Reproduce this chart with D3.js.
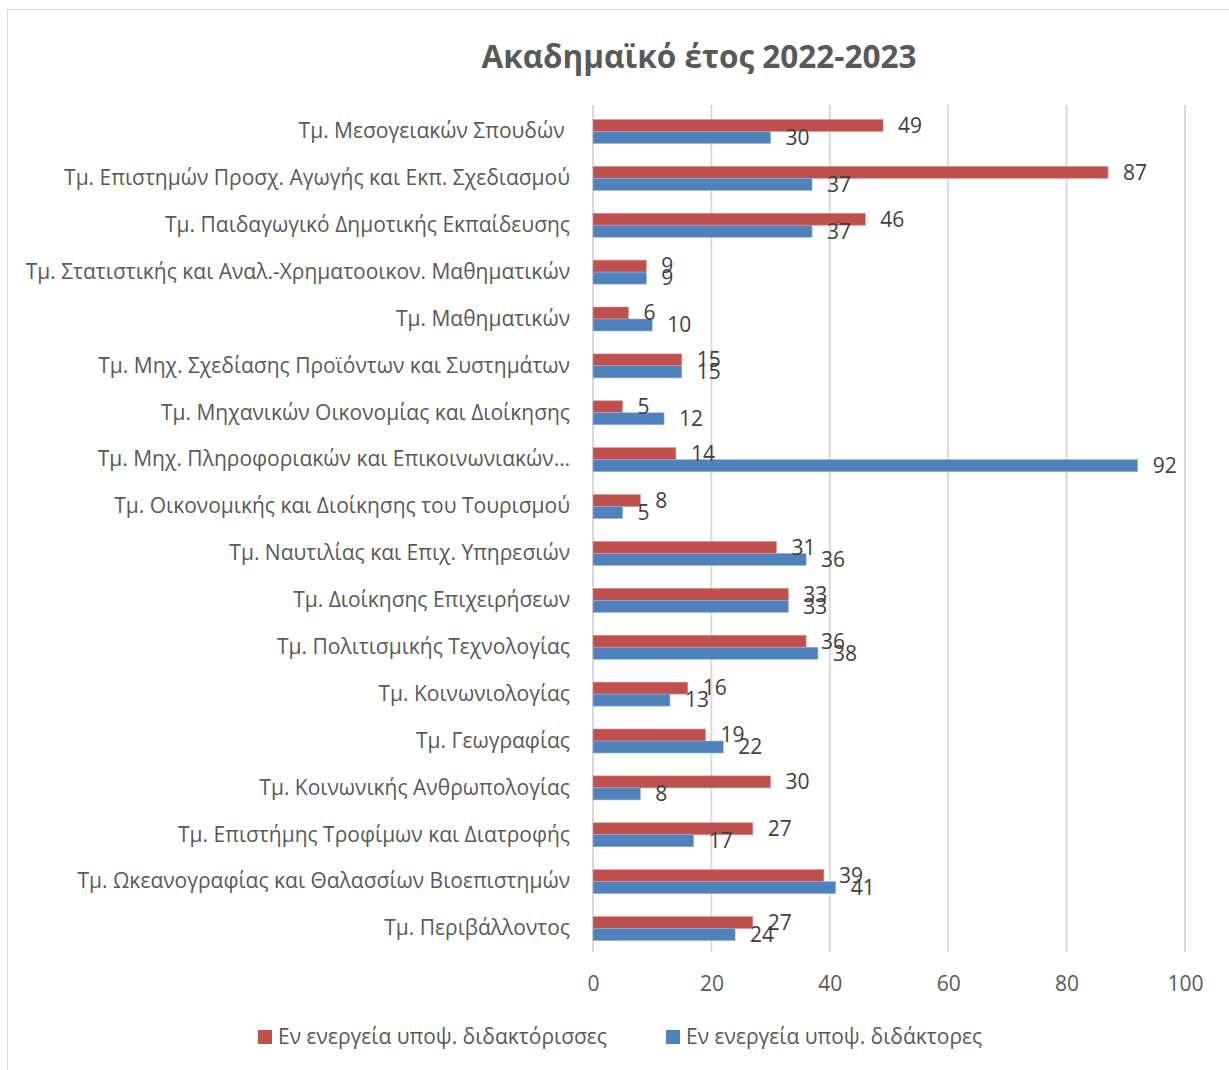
<!DOCTYPE html>
<html>
<head>
<meta charset="utf-8">
<script src="https://cdn.jsdelivr.net/npm/d3@7"></script>
<style>
  html, body { margin: 0; padding: 0; background: #fff; overflow: hidden; }
  svg { display: block; font-family: "Open Sans", "Noto Sans", sans-serif; }
</style>
</head>
<body>
<svg id="drawing_region"></svg>
<script>
var width = 1229;
var height = 1070;
var margin = {top:108, right:44, bottom:118, left:593};

// departments, top to bottom
const categories = [
  "Τμ. Μεσογειακών Σπουδών ",
  "Τμ. Επιστημών Προσχ. Αγωγής και Εκπ. Σχεδιασμού",
  "Τμ. Παιδαγωγικό Δημοτικής Εκπαίδευσης",
  "Τμ. Στατιστικής και Αναλ.-Χρηματοοικον. Μαθηματικών",
  "Τμ. Μαθηματικών",
  "Τμ. Μηχ. Σχεδίασης Προϊόντων και Συστημάτων",
  "Τμ. Μηχανικών Οικονομίας και Διοίκησης",
  "Τμ. Μηχ. Πληροφοριακών και Επικοινωνιακών…",
  "Τμ. Οικονομικής και Διοίκησης του Τουρισμού",
  "Τμ. Ναυτιλίας και Επιχ. Υπηρεσιών",
  "Τμ. Διοίκησης Επιχειρήσεων",
  "Τμ. Πολιτισμικής Τεχνολογίας",
  "Τμ. Κοινωνιολογίας",
  "Τμ. Γεωγραφίας",
  "Τμ. Κοινωνικής Ανθρωπολογίας",
  "Τμ. Επιστήμης Τροφίμων και Διατροφής",
  "Τμ. Ωκεανογραφίας και Θαλασσίων Βιοεπιστημών",
  "Τμ. Περιβάλλοντος"
];
const female = [49, 87, 46, 9, 6, 15, 5, 14, 8, 31, 33, 36, 16, 19, 30, 27, 39, 27];
const male   = [30, 37, 37, 9, 10, 15, 12, 92, 5, 36, 33, 38, 13, 22, 8, 17, 41, 24];
const seriesNames = ["Εν ενεργεία υποψ. διδακτόρισσες", "Εν ενεργεία υποψ. διδάκτορες"];
const seriesColors = ["#C0504D", "#4F81BD"];
const xTicks = [0, 20, 40, 60, 80, 100];
const title = "Ακαδημαϊκό έτος 2022-2023";

const innerWidth = width - margin.left - margin.right;
const innerHeight = height - margin.top - margin.bottom;

var svg = d3.select('#drawing_region')
      .attr('width', width)
      .attr('height', height);

// chart border: only left and top edges are in the picture
svg.append('path')
      .attr('d', `M7.5,${height} V9.5 H${width}`)
      .attr('fill', 'none')
      .attr('stroke', '#d9d9d9');

svg.append('text')
      .attr('x', 699).attr('y', 55)
      .attr('text-anchor', 'middle')
      .attr('dominant-baseline', 'central')
      .attr('font-size', 31.5)
      .attr('font-weight', 'bold')
      .attr('fill', '#595959')
      .text(title);

var chart = svg.append('g')
      .attr('transform', `translate(${margin.left}, ${margin.top})`);

const xscale = d3.scaleLinear()
      .domain([0, 100])
      .range([0, 592]);

const yscale = d3.scaleBand()
      .domain(categories)
      .range([0, innerHeight])
      .paddingInner(0.488)
      .paddingOuter(0.244);

const sub = d3.scaleBand()
      .domain([0, 1])
      .range([0, yscale.bandwidth()]);

// gridlines
chart.append('g')
      .selectAll('line')
      .data(xTicks)
      .enter()
      .append('line')
      .attr('x1', d => xscale(d)).attr('x2', d => xscale(d))
      .attr('y1', -3).attr('y2', innerHeight)
      .attr('stroke', '#d9d9d9')
      .attr('stroke-width', 2);

const rows = categories.map((c, i) => ({cat: c, vals: [female[i], male[i]]}));

const groups = chart.selectAll('g.row')
      .data(rows)
      .enter()
      .append('g')
      .attr('class', 'row')
      .attr('transform', d => `translate(0, ${yscale(d.cat)})`);

groups.selectAll('rect')
      .data(d => d.vals)
      .enter()
      .append('rect')
      .attr('x', 0)
      .attr('y', (d, j) => sub(j))
      .attr('width', d => xscale(d))
      .attr('height', sub.bandwidth())
      .attr('fill', (d, j) => seriesColors[j])
      .attr('stroke', (d, j) => j === 0 ? '#d59896' : '#95b3d7')
      .attr('stroke-width', 0.6);

groups.selectAll('text')
      .data(d => d.vals)
      .enter()
      .append('text')
      .attr('x', d => xscale(d) + 15)
      .attr('y', (d, j) => sub(j) + sub.bandwidth() / 2)
      .attr('dy', '0.35em')
      .attr('font-size', 21)
      .attr('fill', '#404040')
      .text(d => d);

// category axis
const yAxis = d3.axisLeft(yscale).tickSize(0).tickPadding(23);
const yg = chart.append('g').call(yAxis);
yg.select('.domain').remove();
yg.selectAll('text')
      .attr('font-size', 21)
      .attr('font-family', '"Open Sans", sans-serif')
      .attr('fill', '#595959')
      .style('white-space', 'pre');

// value axis
const xAxis = d3.axisBottom(xscale).tickValues(xTicks).tickSize(0).tickPadding(24);
const xg = chart.append('g')
      .attr('transform', `translate(0, ${innerHeight})`)
      .call(xAxis);
xg.select('.domain').remove();
xg.selectAll('text')
      .attr('font-size', 21)
      .attr('font-family', '"Open Sans", sans-serif')
      .attr('fill', '#595959');

// legend
const legendX = [258, 666];
const legend = svg.append('g');
seriesNames.forEach((name, j) => {
  legend.append('rect')
        .attr('x', legendX[j]).attr('y', 1030)
        .attr('width', 14).attr('height', 14)
        .attr('fill', seriesColors[j]);
  legend.append('text')
        .attr('x', legendX[j] + 20).attr('y', 1037)
        .attr('dy', '0.35em')
        .attr('font-size', 21)
        .attr('fill', '#595959')
        .text(name);
});
</script>
</body>
</html>
